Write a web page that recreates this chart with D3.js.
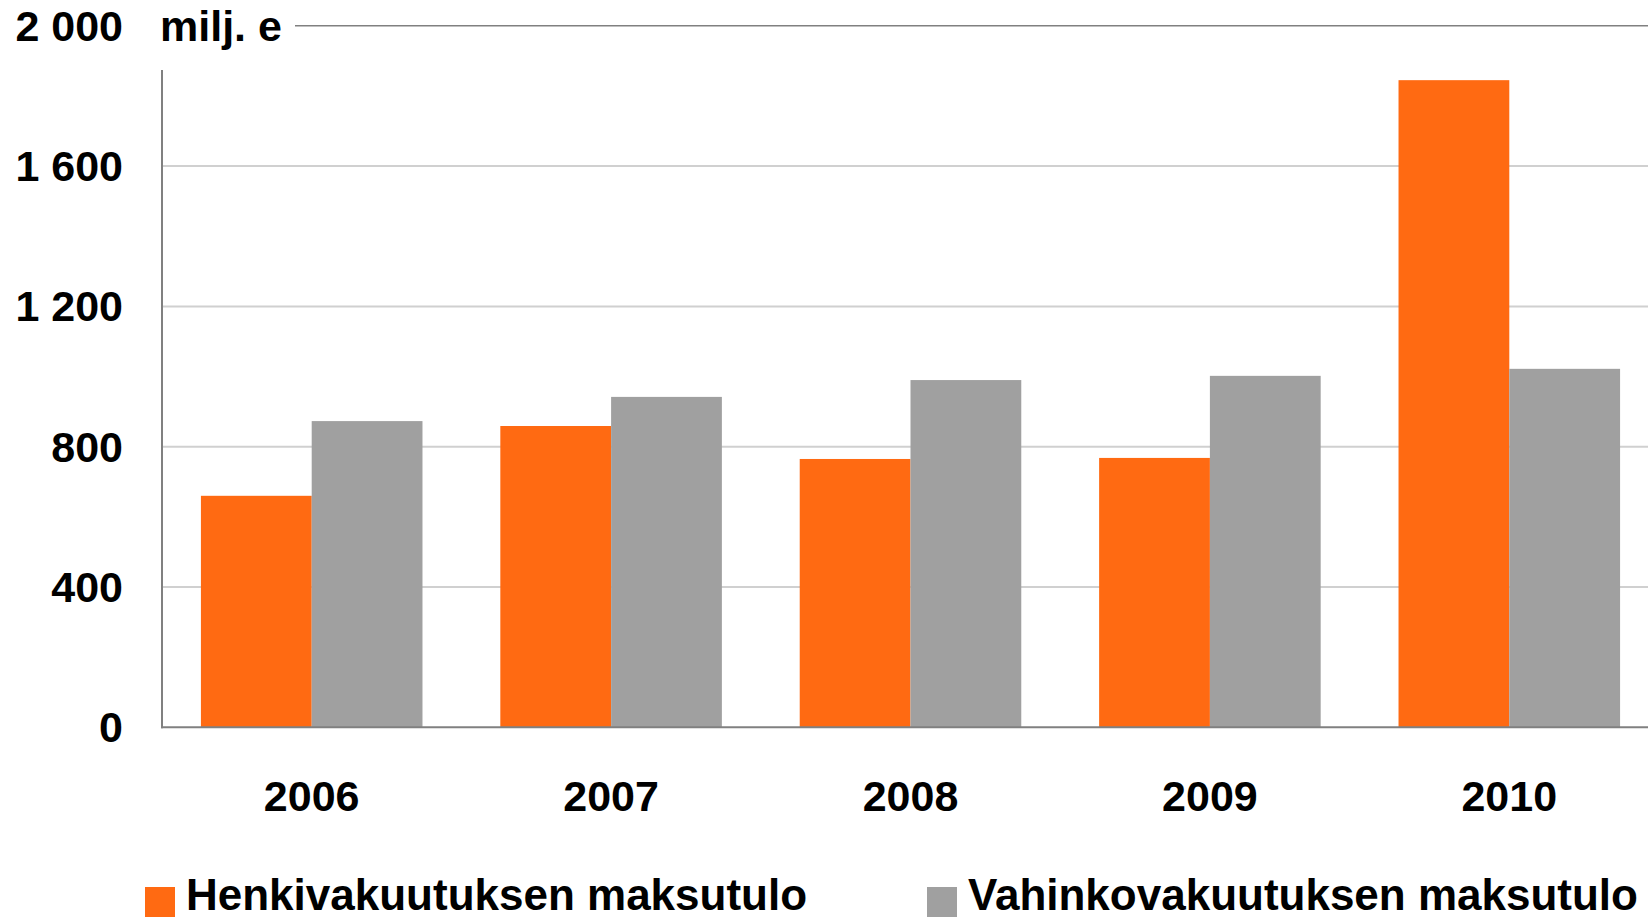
<!DOCTYPE html>
<meta charset="utf-8">
<style>
body { margin: 0; background: #fff; }
text {
  font-family: "Liberation Sans", Arial, sans-serif;
  font-weight: bold;
  fill: #000;
}
</style>
<svg width="1648" height="920"></svg>
<script src="https://cdn.jsdelivr.net/npm/d3@7"></script>
<script>

// data
var years = ["2006", "2007", "2008", "2009", "2010"];
var series = ["Henkivakuutuksen maksutulo", "Vahinkovakuutuksen maksutulo"];
var henki = [660, 859, 765, 768, 1845];
var vahinko = [873, 942, 990, 1002, 1022];
var yTicks = [0, 400, 800, 1200, 1600];
var colours = ["#ff6a12", "#a0a0a0"];

var svg = d3.select("svg"),
    width = +svg.attr("width"),
    height = +svg.attr("height");

var plotLeft = 162, plotBottom = 727.3, plotTop = 25.8;

var y = d3.scaleLinear().domain([0, 2000]).range([plotBottom, plotTop]);

var x0 = d3.scaleBand()
    .domain(years)
    .range([plotLeft, 1659])
    .paddingInner(0.26)
    .paddingOuter(0.13);

var x1 = d3.scaleBand()
    .domain(series)
    .range([0, x0.bandwidth()]);

var colour = d3.scaleOrdinal().domain(series).range(colours);

// gridlines
svg.append("g")
   .selectAll("line")
   .data(yTicks.slice(1))
   .enter().append("line")
   .attr("x1", plotLeft)
   .attr("x2", width)
   .attr("y1", d => y(d))
   .attr("y2", d => y(d))
   .attr("stroke", "#d0d0d0")
   .attr("stroke-width", 2);

// top line next to the unit label
svg.append("line")
   .attr("x1", 295)
   .attr("x2", width)
   .attr("y1", y(2000))
   .attr("y2", y(2000))
   .attr("stroke", "#808080")
   .attr("stroke-width", 1.5);

// bars
var rows = years.map((yr, i) => ({year: yr, values: [henki[i], vahinko[i]]}));

svg.append("g")
   .selectAll("g")
   .data(rows)
   .enter().append("g")
   .attr("transform", d => "translate(" + x0(d.year) + ",0)")
   .selectAll("rect")
   .data(d => d.values.map((v, j) => ({key: series[j], value: v})))
   .enter().append("rect")
   .attr("x", d => x1(d.key))
   .attr("width", x1.bandwidth())
   .attr("y", d => y(d.value))
   .attr("height", d => plotBottom - y(d.value))
   .attr("fill", d => colour(d.key));

// axes lines
svg.append("line")
   .attr("x1", plotLeft).attr("x2", plotLeft)
   .attr("y1", 70).attr("y2", plotBottom + 1)
   .attr("stroke", "#808080")
   .attr("stroke-width", 2);

svg.append("line")
   .attr("x1", plotLeft - 1).attr("x2", width)
   .attr("y1", plotBottom).attr("y2", plotBottom)
   .attr("stroke", "#808080")
   .attr("stroke-width", 2);

// y tick labels
var fmt = d => d3.format(",")(d).replace(/,/g, " ");

svg.append("g")
   .selectAll("text")
   .data(yTicks.concat([2000]))
   .enter().append("text")
   .attr("x", 123)
   .attr("y", d => y(d))
   .attr("dy", "0.35em")
   .attr("text-anchor", "end")
   .style("font-size", "43px")
   .text(fmt);

svg.append("text")
   .attr("x", 160)
   .attr("y", y(2000))
   .attr("dy", "0.35em")
   .style("font-size", "43px")
   .text("milj. e");

// x labels
svg.append("g")
   .selectAll("text")
   .data(years)
   .enter().append("text")
   .attr("x", d => x0(d) + x0.bandwidth() / 2)
   .attr("y", 811)
   .attr("text-anchor", "middle")
   .style("font-size", "43px")
   .text(d => d);

// legend
var legendX = [145, 927];
var legend = svg.append("g")
   .selectAll("g")
   .data(series)
   .enter().append("g")
   .attr("transform", (d, i) => "translate(" + legendX[i] + ",0)");

legend.append("rect")
   .attr("x", 0)
   .attr("y", 887)
   .attr("width", 30)
   .attr("height", 30)
   .attr("fill", d => colour(d));

legend.append("text")
   .attr("x", 41)
   .attr("y", 910)
   .style("font-size", "44px")
   .text(d => d);

</script>
